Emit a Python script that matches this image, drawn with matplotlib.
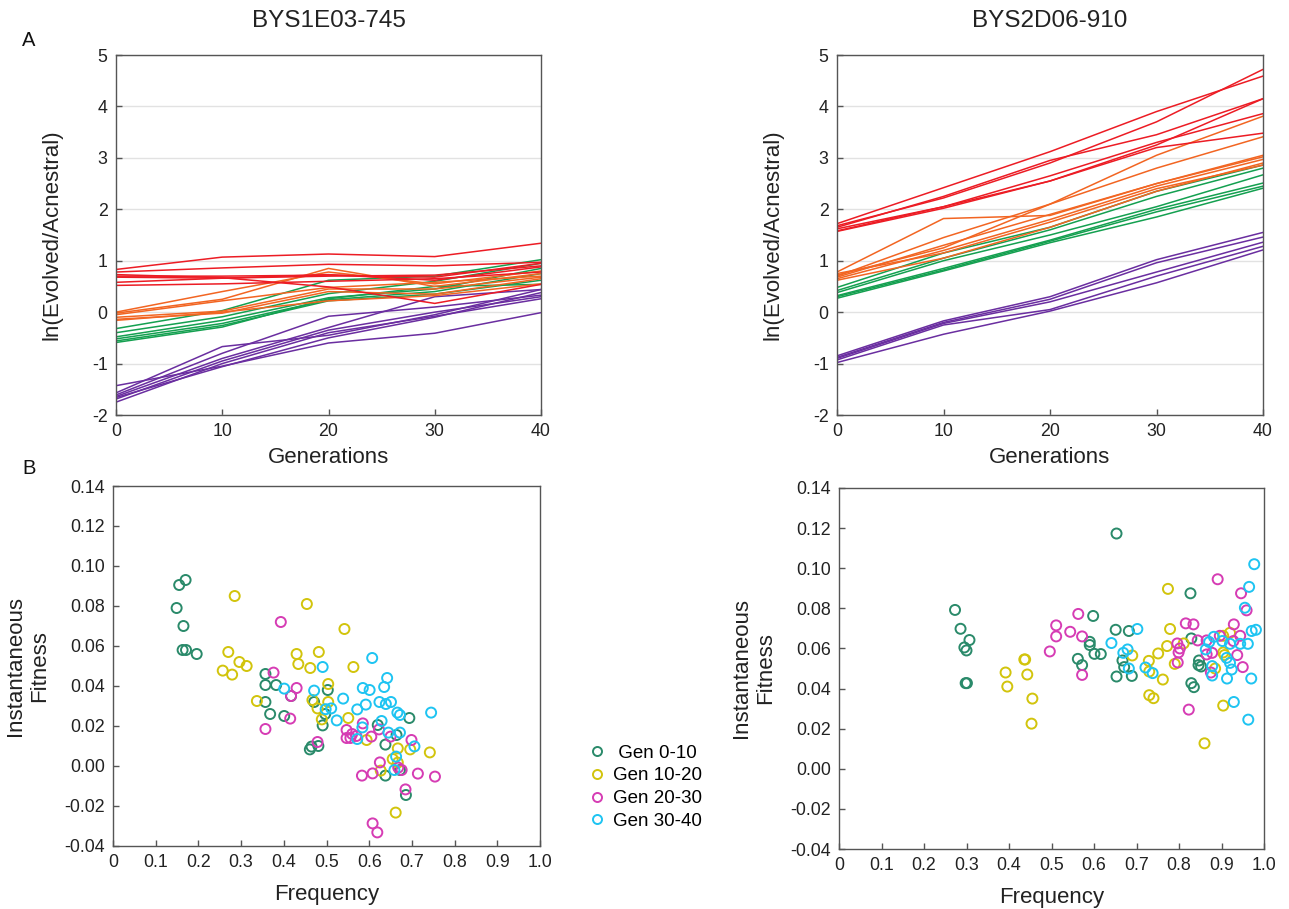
import matplotlib
matplotlib.use("Agg")
import matplotlib.pyplot as plt
from matplotlib.lines import Line2D

plt.rcParams['font.family'] = ['Liberation Sans', 'DejaVu Sans']
plt.rcParams['axes.unicode_minus'] = False

# ---------------- data ----------------
generations = [0, 10, 20, 30, 40]
titles = ["BYS1E03-745", "BYS2D06-910"]

# ln(evolved/ancestral) trajectories, left strain
left_red = [
    [0.83, 1.07, 1.13, 1.08, 1.34],
    [0.78, 0.86, 0.93, 0.90, 0.97],
    [0.73, 0.67, 0.49, 0.17, 0.54],
    [0.70, 0.70, 0.72, 0.68, 0.95],
    [0.68, 0.66, 0.70, 0.72, 0.90],
    [0.58, 0.66, 0.73, 0.62, 0.88],
    [0.52, 0.55, 0.60, 0.65, 0.78],
]
left_orange = [
    [0.00, 0.40, 0.78, 0.55, 0.80],
    [-0.02, 0.25, 0.85, 0.50, 0.75],
    [-0.05, 0.22, 0.48, 0.58, 0.70],
    [-0.10, 0.02, 0.45, 0.45, 0.68],
    [-0.14, -0.02, 0.40, 0.35, 0.65],
    [-0.16, 0.00, 0.22, 0.32, 0.55],
]
left_green = [
    [-0.32, 0.03, 0.62, 0.70, 1.02],
    [-0.40, -0.09, 0.36, 0.60, 0.95],
    [-0.48, -0.16, 0.28, 0.45, 0.85],
    [-0.52, -0.22, 0.24, 0.40, 0.75],
    [-0.56, -0.26, 0.22, 0.35, 0.62],
    [-0.59, -0.29, 0.26, 0.50, 0.54],
]
left_purple = [
    [-1.43, -1.05, -0.60, -0.41, -0.01],
    [-1.57, -0.67, -0.45, -0.05, 0.44],
    [-1.61, -0.80, -0.08, 0.10, 0.33],
    [-1.64, -0.90, -0.30, 0.30, 0.44],
    [-1.69, -0.95, -0.35, 0.00, 0.30],
    [-1.75, -1.00, -0.40, -0.08, 0.26],
    [-1.66, -1.06, -0.50, -0.10, 0.38],
]

# ln(evolved/ancestral) trajectories, right strain
right_red = [
    [1.72, 2.42, 3.12, 3.90, 4.59],
    [1.68, 2.22, 2.90, 3.70, 4.72],
    [1.65, 2.25, 2.95, 3.45, 4.15],
    [1.62, 2.05, 2.55, 3.25, 4.15],
    [1.58, 2.05, 2.65, 3.30, 3.86],
    [1.57, 2.02, 2.55, 3.20, 3.48],
]
right_orange = [
    [0.78, 1.82, 1.88, 2.50, 3.02],
    [0.72, 1.25, 2.10, 3.05, 3.81],
    [0.70, 1.45, 2.10, 2.80, 3.41],
    [0.68, 1.30, 1.90, 2.50, 3.05],
    [0.65, 1.20, 1.80, 2.45, 2.97],
    [0.62, 1.05, 1.65, 2.35, 2.90],
    [0.75, 1.15, 1.75, 2.40, 2.86],
]
right_green = [
    [0.48, 1.15, 1.65, 2.35, 2.86],
    [0.42, 1.05, 1.60, 2.25, 2.80],
    [0.38, 1.00, 1.50, 2.05, 2.67],
    [0.32, 0.85, 1.40, 2.00, 2.51],
    [0.27, 0.80, 1.35, 1.85, 2.41],
    [0.30, 0.82, 1.38, 1.95, 2.45],
]
right_purple = [
    [-0.85, -0.17, 0.30, 1.02, 1.55],
    [-0.88, -0.20, 0.25, 0.96, 1.46],
    [-0.90, -0.22, 0.20, 0.78, 1.36],
    [-0.93, -0.25, 0.05, 0.70, 1.28],
    [-0.98, -0.43, 0.02, 0.57, 1.21],
]

# instantaneous fitness vs frequency, left strain
left_g1_freq = [0.170, 0.155, 0.149, 0.165, 0.163, 0.171, 0.196, 0.357, 0.357, 0.382, 0.357, 0.417,
                0.471, 0.503, 0.368, 0.401, 0.497, 0.491, 0.461, 0.465, 0.481, 0.694, 0.620, 0.664,
                0.638, 0.672, 0.638, 0.686]
left_g1_fit = [0.093, 0.0905, 0.079, 0.070, 0.058, 0.058, 0.056, 0.046, 0.0405, 0.0405, 0.032, 0.035,
               0.032, 0.038, 0.026, 0.025, 0.026, 0.0203, 0.0083, 0.0097, 0.010, 0.024, 0.0205, 0.0155,
               0.0107, -0.002, -0.0048, -0.0145]
left_g2_freq = [0.285, 0.454, 0.542, 0.270, 0.430, 0.482, 0.296, 0.313, 0.434, 0.462, 0.257, 0.279,
                0.504, 0.337, 0.467, 0.504, 0.563, 0.479, 0.489, 0.551, 0.594, 0.667, 0.696, 0.742,
                0.655, 0.667, 0.627, 0.662]
left_g2_fit = [0.085, 0.081, 0.0685, 0.057, 0.056, 0.057, 0.052, 0.050, 0.051, 0.049, 0.0477, 0.0457,
               0.041, 0.0325, 0.033, 0.032, 0.0495, 0.0288, 0.0233, 0.024, 0.013, 0.0088, 0.0083, 0.0068,
               0.0035, 0.0017, -0.0023, -0.0233]
left_g3_freq = [0.393, 0.376, 0.430, 0.417, 0.415, 0.357, 0.547, 0.560, 0.547, 0.556, 0.570, 0.585,
                0.605, 0.479, 0.583, 0.608, 0.608, 0.619, 0.623, 0.650, 0.699, 0.625, 0.668, 0.676,
                0.714, 0.754, 0.685]
left_g3_fit = [0.072, 0.0467, 0.039, 0.035, 0.0237, 0.0185, 0.018, 0.016, 0.014, 0.014, 0.015, 0.0213,
               0.0147, 0.012, -0.0048, -0.0037, -0.0287, -0.0332, 0.0183, 0.0147, 0.013, 0.0018, -0.0008,
               -0.002, -0.0038, -0.0053, -0.0117]
left_g4_freq = [0.491, 0.401, 0.471, 0.539, 0.607, 0.585, 0.601, 0.624, 0.498, 0.511, 0.524, 0.584,
                0.572, 0.642, 0.635, 0.639, 0.651, 0.572, 0.592, 0.666, 0.672, 0.745, 0.629, 0.645,
                0.672, 0.706, 0.663, 0.659]
left_g4_fit = [0.0495, 0.0387, 0.0377, 0.0337, 0.054, 0.039, 0.038, 0.032, 0.0284, 0.0288, 0.0228, 0.0193,
               0.0135, 0.044, 0.0395, 0.031, 0.032, 0.0283, 0.0307, 0.0267, 0.0255, 0.0267, 0.0225, 0.0167,
               0.0167, 0.0098, 0.0047, -0.002]

# instantaneous fitness vs frequency, right strain
right_g1_freq = [0.273, 0.286, 0.307, 0.295, 0.300, 0.298, 0.301, 0.653, 0.827, 0.598, 0.590, 0.590,
                 0.601, 0.616, 0.562, 0.572, 0.651, 0.682, 0.667, 0.671, 0.689, 0.653, 0.829, 0.847,
                 0.846, 0.852, 0.829, 0.835]
right_g1_fit = [0.0792, 0.0698, 0.0642, 0.0605, 0.059, 0.0427, 0.0427, 0.1173, 0.0875, 0.0762, 0.0633,
                0.0617, 0.0573, 0.0572, 0.0548, 0.0517, 0.0693, 0.0687, 0.054, 0.0507, 0.0463, 0.046,
                0.065, 0.054, 0.0517, 0.051, 0.0427, 0.0407]
right_g2_freq = [0.392, 0.396, 0.436, 0.438, 0.443, 0.455, 0.453, 0.774, 0.690, 0.729, 0.730, 0.751,
                 0.762, 0.730, 0.740, 0.779, 0.772, 0.790, 0.811, 0.904, 0.920, 0.904, 0.907, 0.885,
                 0.904, 0.860]
right_g2_fit = [0.048, 0.041, 0.0545, 0.0545, 0.047, 0.035, 0.0225, 0.0897, 0.0565, 0.0538, 0.0485,
                0.0575, 0.0445, 0.0367, 0.0352, 0.0697, 0.0612, 0.0523, 0.0625, 0.0663, 0.0678, 0.058,
                0.0567, 0.050, 0.0315, 0.0127]
right_g3_freq = [0.891, 0.946, 0.959, 0.563, 0.511, 0.544, 0.511, 0.572, 0.496, 0.572, 0.816, 0.834,
                 0.796, 0.802, 0.799, 0.797, 0.844, 0.865, 0.896, 0.929, 0.944, 0.928, 0.878, 0.865,
                 0.937, 0.950, 0.875, 0.823]
right_g3_fit = [0.0945, 0.0875, 0.079, 0.0772, 0.0715, 0.0683, 0.066, 0.066, 0.0585, 0.0468, 0.0725,
                0.072, 0.0625, 0.060, 0.058, 0.053, 0.064, 0.064, 0.0663, 0.072, 0.0663, 0.0637, 0.0578,
                0.057, 0.0567, 0.0507, 0.048, 0.0295]
right_g4_freq = [0.977, 0.965, 0.955, 0.702, 0.641, 0.679, 0.669, 0.682, 0.721, 0.738, 0.882, 0.971,
                 0.981, 0.871, 0.902, 0.920, 0.944, 0.962, 0.863, 0.912, 0.920, 0.924, 0.878, 0.878,
                 0.913, 0.970, 0.929, 0.963]
right_g4_fit = [0.102, 0.0907, 0.0803, 0.0697, 0.0627, 0.0595, 0.0578, 0.050, 0.0505, 0.0477, 0.0658,
                0.0687, 0.0693, 0.0632, 0.0637, 0.0623, 0.0623, 0.0623, 0.0595, 0.0553, 0.0528, 0.0495,
                0.0512, 0.0465, 0.045, 0.045, 0.0333, 0.0245]

group_labels = [" Gen 0-10", "Gen 10-20", "Gen 20-30", "Gen 30-40"]
group_colors = ["#2a8a6a", "#d2c40c", "#d63cb4", "#1ec4f2"]
line_colors = {"red": "#ec1c24", "orange": "#f26522", "green": "#14a050", "purple": "#6a2ea0"}

y_ticks_top = [-2, -1, 0, 1, 2, 3, 4, 5]
x_ticks_top = [0, 10, 20, 30, 40]
x_ticks_bot = [0, 0.1, 0.2, 0.3, 0.4, 0.5, 0.6, 0.7, 0.8, 0.9, 1.0]
x_ticklabels_bot = ["0", "0.1", "0.2", "0.3", "0.4", "0.5", "0.6", "0.7", "0.8", "0.9", "1.0"]
y_ticks_bot = [-0.04, -0.02, 0.00, 0.02, 0.04, 0.06, 0.08, 0.10, 0.12, 0.14]

# ---------------- figure ----------------
fig = plt.figure(figsize=(12.89, 9.09), dpi=100)
W, H = 1289, 909


def axes_px(left, top, right, bottom):
    return fig.add_axes([left / W, 1 - bottom / H, (right - left) / W, (bottom - top) / H])


ax_tl = axes_px(116, 55, 541, 415)
ax_tr = axes_px(837, 55, 1263, 415)
ax_bl = axes_px(113, 486, 540, 846)
ax_br = axes_px(839, 488, 1264, 849)

TICK_FS = 12.8
LABEL_FS = 16
TEXT_COLOR = "#222222"


def style_axes(ax):
    for sp in ax.spines.values():
        sp.set_color("#555555")
        sp.set_linewidth(1.0)
    ax.tick_params(direction="in", length=4, width=1, colors="#555555",
                   labelcolor=TEXT_COLOR, labelsize=TICK_FS, pad=6)


top_sets = [
    (ax_tl, left_red, left_orange, left_green, left_purple),
    (ax_tr, right_red, right_orange, right_green, right_purple),
]
for i, (ax, reds, oranges, greens, purples) in enumerate(top_sets):
    for y_vals in purples:
        ax.plot(generations, y_vals, color=line_colors["purple"], lw=1.1)
    for y_vals in greens:
        ax.plot(generations, y_vals, color=line_colors["green"], lw=1.1)
    for y_vals in oranges:
        ax.plot(generations, y_vals, color=line_colors["orange"], lw=1.1)
    for y_vals in reds:
        ax.plot(generations, y_vals, color=line_colors["red"], lw=1.1)
    ax.set_xlim(0, 40)
    ax.set_ylim(-2, 5)
    ax.set_xticks(x_ticks_top)
    ax.set_yticks(y_ticks_top)
    ax.yaxis.grid(True, color="#e2e2e2", lw=1.0)
    ax.set_axisbelow(True)
    style_axes(ax)
    ax.set_xlabel("Generations", fontsize=LABEL_FS, color=TEXT_COLOR, labelpad=5)
    ax.set_ylabel("ln(Evolved/Acnestral)", fontsize=LABEL_FS, color=TEXT_COLOR, labelpad=21)
    ax.set_title(titles[i], fontsize=17.5, color=TEXT_COLOR, pad=20)

bottom_sets = [
    (ax_bl, [(left_g1_freq, left_g1_fit), (left_g2_freq, left_g2_fit),
             (left_g3_freq, left_g3_fit), (left_g4_freq, left_g4_fit)]),
    (ax_br, [(right_g1_freq, right_g1_fit), (right_g2_freq, right_g2_fit),
             (right_g3_freq, right_g3_fit), (right_g4_freq, right_g4_fit)]),
]
for ax, groups in bottom_sets:
    for (fx, fy), col in zip(groups, group_colors):
        ax.scatter(fx, fy, s=52, facecolors="none", edgecolors=col, linewidths=1.4)
    ax.set_xlim(0, 1.0)
    ax.set_ylim(-0.04, 0.14)
    ax.set_xticks(x_ticks_bot)
    ax.set_xticklabels(x_ticklabels_bot)
    ax.set_yticks(y_ticks_bot)
    ax.set_yticklabels([f"{v:.2f}" for v in y_ticks_bot])
    style_axes(ax)
    ax.set_xlabel("Frequency", fontsize=LABEL_FS, color=TEXT_COLOR, labelpad=9)
    ax.set_ylabel("Instantaneous\nFitness", fontsize=LABEL_FS, color=TEXT_COLOR,
                  labelpad=10, linespacing=1.2)

# panel letters
fig.text(22 / W, 1 - 40 / H, "A", fontsize=14.5, color="#111111", va="center", ha="left")
fig.text(22 / W, 1 - 468 / H, "B", fontsize=14.5, color="#111111", va="center", ha="left")

# legend for generation windows
handles = [Line2D([], [], marker="o", ls="none", markerfacecolor="none",
                  markeredgecolor=c, markeredgewidth=1.4, markersize=6.5) for c in group_colors]
fig.legend(handles, group_labels, loc="upper left", bbox_to_anchor=(580 / W, 1 - 737 / H),
           frameon=False, fontsize=13.5, handletextpad=0.35, labelspacing=0.3,
           handlelength=1.0, borderaxespad=0)

fig.savefig("out.png", dpi=100)
